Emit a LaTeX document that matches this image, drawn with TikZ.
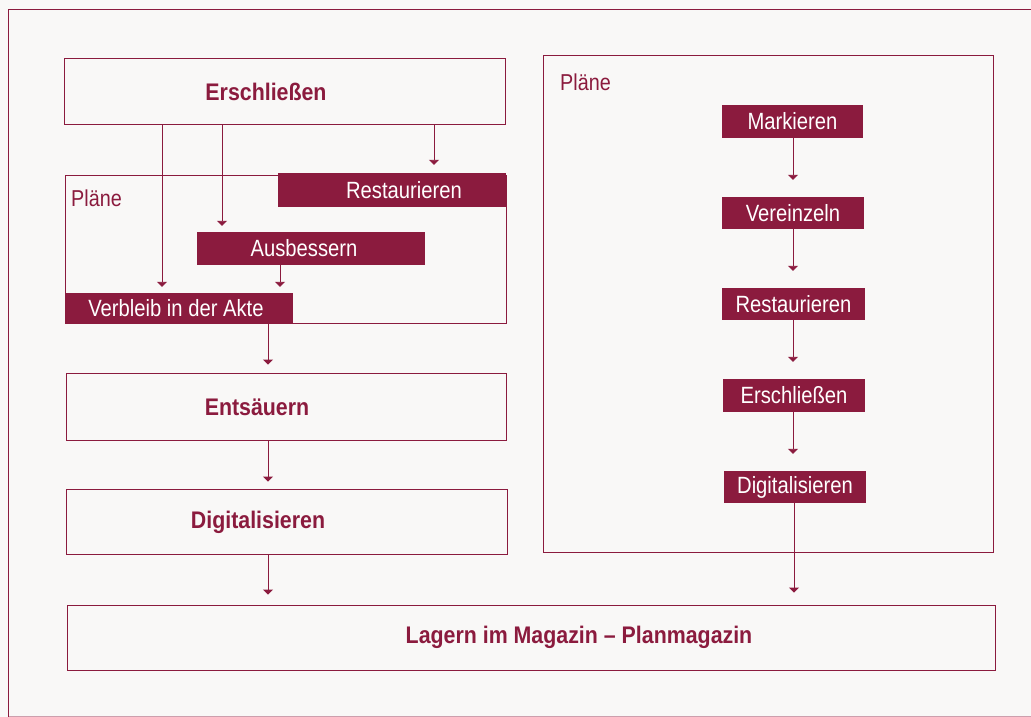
\documentclass[tikz,border=0pt]{standalone}
\usepackage{fontspec}
\setmainfont{Liberation Sans}[FakeStretch=0.86, BoldFeatures={FakeStretch=0.89}]
\usetikzlibrary{arrows.meta}
\definecolor{burg}{RGB}{139,27,62}
\definecolor{paper}{RGB}{249,248,247}
\begin{document}
\begin{tikzpicture}[x=1pt,y=-1pt,
  box/.style={draw=burg, line width=0.9pt, rectangle, inner sep=0pt},
  fbox/.style={fill=burg, rectangle, inner sep=0pt, text=white, font=\fontsize{23.5}{26}\selectfont},
  bl/.style={text=burg, font=\bfseries\fontsize{24}{26}\selectfont},
  wl/.style={text=white, font=\fontsize{23.5}{26}\selectfont},
  plabel/.style={text=burg, anchor=base west, inner sep=0pt, font=\fontsize{23}{26}\selectfont},
  arr/.style={draw=burg, line width=0.9pt, -{Triangle[width=10pt,length=5pt]}},
  frame/.style={draw=burg, line width=0.8pt},
]
\fill[paper] (0,0) rectangle (1031,717);
\useasboundingbox (0,0) rectangle (1031,717);
% outer frame
\draw[frame] (1031,9) -- (8,9) -- (8,717);
\draw[frame, draw opacity=0.4] (8,716) -- (1031,716);

% left column
\node[box, minimum width=441pt, minimum height=66pt, label={[bl, xshift=-18.5pt, yshift=-1pt]center:Erschließen}] (ersch) at (284.5,91) {};
\node[box, minimum width=441pt, minimum height=148pt] (plaeneL) at (285.5,249) {};
\node[plabel] (plL) at (71,206) {Pläne};
\node[fbox, minimum width=228pt, minimum height=34pt, label={[wl, xshift=12pt]center:Restaurieren}] (restL) at (392,190) {};
\node[fbox, minimum width=228pt, minimum height=33pt, label={[wl, xshift=-7pt]center:Ausbessern}] (ausb) at (311,248.5) {};
\node[fbox, minimum width=228pt, minimum height=31pt, label={[wl, xshift=-3pt]center:Verbleib in der Akte}] (verb) at (179,308.5) {};
\node[box, minimum width=440pt, minimum height=67pt, label={[bl, xshift=-29pt, yshift=-1pt]center:Entsäuern}] (ents) at (286,406.5) {};
\node[box, minimum width=441pt, minimum height=65pt, label={[bl, xshift=-28.5pt, yshift=-1pt]center:Digitalisieren}] (digL) at (286.5,521.5) {};
\node[box, minimum width=928pt, minimum height=65pt, label={[bl, xshift=48pt]center:Lagern im Magazin -- Planmagazin}] (lager) at (531,637.5) {};

% right column
\node[box, minimum width=450pt, minimum height=497pt] (plaeneR) at (768,303.5) {};
\node[plabel] (plR) at (560,91) {Pläne};
\node[fbox, minimum width=141pt, minimum height=33pt] (mark) at (792.5,121.5) {Markieren};
\node[fbox, minimum width=142pt, minimum height=32pt] (verz) at (793,213) {Vereinzeln};
\node[fbox, minimum width=143pt, minimum height=32pt] (restR) at (793.5,304) {Restaurieren};
\node[fbox, minimum width=142pt, minimum height=33pt] (erschR) at (794,395.5) {Erschließen};
\node[fbox, minimum width=142pt, minimum height=32pt] (digR) at (795,487) {Digitalisieren};

% x positions of connectors
\coordinate (xa) at (162,0);
\coordinate (xb) at (222,0);
\coordinate (xc) at (434,0);
\coordinate (xd) at (280,0);
\coordinate (xe) at (268,0);
\coordinate (xf) at (793,0);
\coordinate (xg) at (794,0);

% left connectors
\draw[arr, shorten >=6pt] (ersch.south -| xa) -- (verb.north -| xa);
\draw[arr, shorten >=6pt] (ersch.south -| xb) -- (ausb.north -| xb);
\draw[arr, shorten >=8pt] (ersch.south -| xc) -- (restL.north -| xc);
\draw[arr, shorten >=6pt] (ausb.south -| xd) -- (verb.north -| xd);
\draw[arr, shorten >=8pt] (verb.south -| xe) -- (ents.north -| xe);
\draw[arr, shorten >=7pt] (ents.south -| xe) -- (digL.north -| xe);
\draw[arr, shorten >=10pt] (digL.south -| xe) -- (lager.north -| xe);

% right connectors
\draw[arr, shorten >=17pt] (mark.south -| xf) -- (verz.north -| xf);
\draw[arr, shorten >=17pt] (verz.south -| xf) -- (restR.north -| xf);
\draw[arr, shorten >=17pt] (restR.south -| xf) -- (erschR.north -| xf);
\draw[arr, shorten >=17pt] (erschR.south -| xf) -- (digR.north -| xf);
\draw[arr, shorten >=12pt] (digR.south -| xg) -- (lager.north -| xg);
\end{tikzpicture}
\end{document}
